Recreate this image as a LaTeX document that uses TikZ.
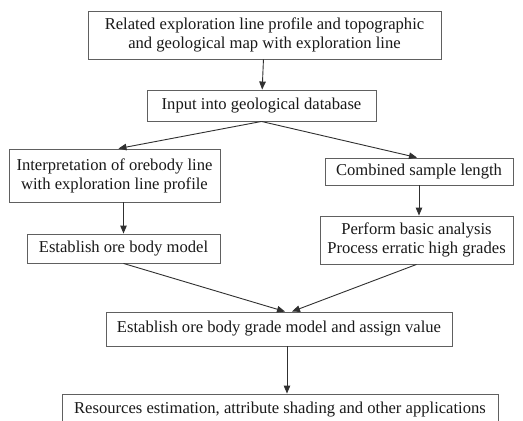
\documentclass[tikz,border=0pt]{standalone}
\usepackage{fontspec}
\setmainfont{Liberation Serif}
\usetikzlibrary{arrows.meta}
\definecolor{boxline}{HTML}{606060}
\definecolor{arrline}{HTML}{303030}
\tikzset{
  box/.style={draw=boxline, line width=0.9pt, align=center, inner sep=0pt,
    font=\fontsize{16.6}{19}\selectfont, text=black!90},
  arr/.style={draw=arrline, line width=0.9pt, -{Triangle[length=8pt,width=6.5pt]}}
}
\begin{document}
\begin{tikzpicture}[x=1pt,y=-1pt]
\useasboundingbox (0,0) rectangle (523,421);
\fill[white] (0,0) rectangle (523,421);
\node[box, minimum width=353pt, minimum height=48pt] (b1) at (264.5,35)
  {Related exploration line profile and topographic\\and geological map with exploration line};
\node[box, minimum width=229pt, minimum height=31pt] (b2) at (261.5,105.5)
  {Input into geological database};
\node[box, minimum width=211pt, minimum height=53pt] (b3) at (114.5,175.5)
  {Interpretation of orebody line\\with exploration line profile};
\node[box, minimum width=188pt, minimum height=27pt] (b4) at (419,171.5)
  {Combined sample length};
\node[box, minimum width=193pt, minimum height=29pt] (b5) at (123.5,248.5)
  {Establish ore body model};
\node[box, minimum width=193pt, minimum height=48pt] (b6) at (416.5,240)
  {Perform basic analysis\\Process erratic high grades};
\node[box, minimum width=346pt, minimum height=34pt] (b7) at (279,329)
  {Establish ore body grade model and assign value};
\node[box, minimum width=436pt, minimum height=32pt] (b8) at (280,410)
  {Resources estimation, attribute shading and other applications};
\draw[arr] (b1) -- (b2);
\draw[arr] (b2.south) -- ([xshift=4pt]b3.north);
\draw[arr] (b2.south) -- ([xshift=-2pt]b4.north);
\draw[arr] (b3.south -| b5) -- (b5.north);
\draw[arr] (b4.south) -- (b4.south |- b6.north);
\draw[arr] (b5.south) -- ([xshift=6pt]b7.north);
\draw[arr] (b6.south) -- ([xshift=13pt]b7.north);
\draw[arr] ([xshift=8pt]b7.south) -- ([xshift=7pt]b8.north);
\end{tikzpicture}
\end{document}
